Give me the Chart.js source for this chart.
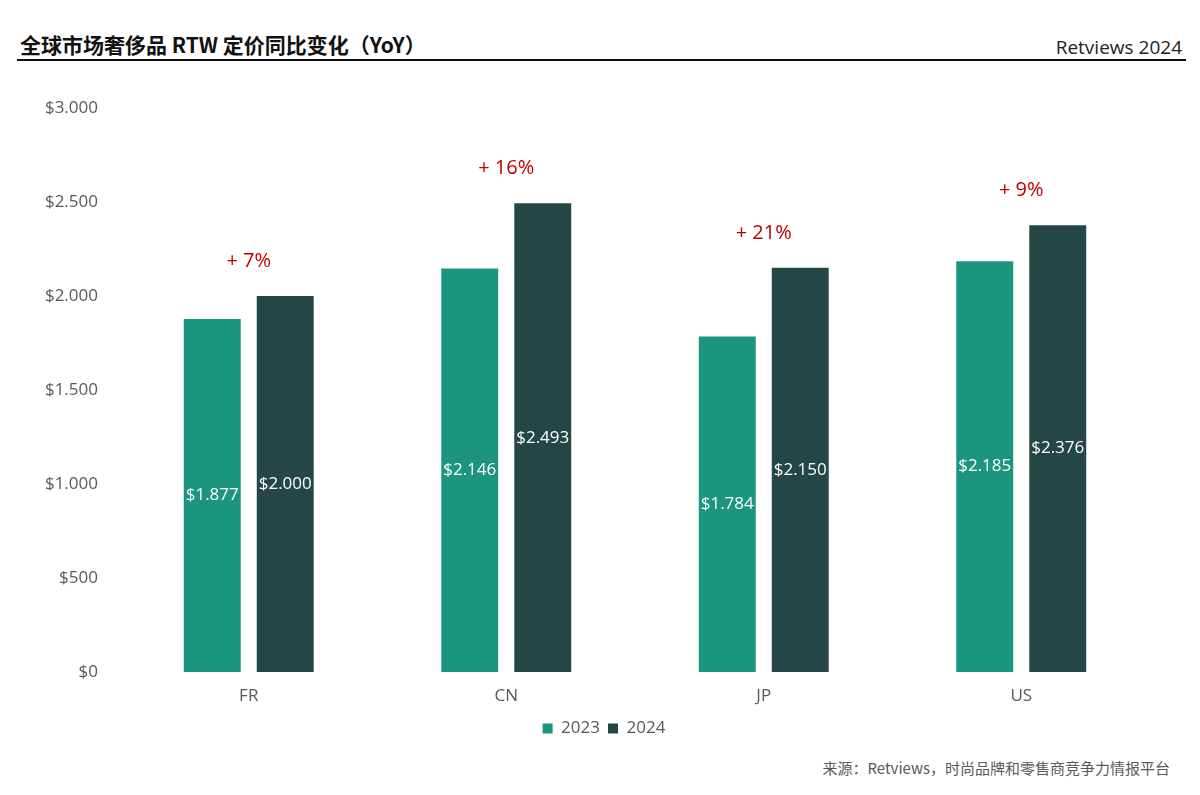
<!DOCTYPE html>
<html>
<head>
<meta charset="utf-8">
<script src="https://cdn.jsdelivr.net/npm/chart.js@4"></script>
<style>
  html, body { margin: 0; padding: 0; background: #fff; }
  body { width: 1200px; height: 795px; position: relative; overflow: hidden; font-family: "Open Sans", "Noto Sans CJK SC", sans-serif; }
  .title { position: absolute; left: 20px; top: 29px; font-family: "Noto Sans CJK SC", sans-serif; font-weight: 700; font-size: 21px; color: #111; }
  .brand { position: absolute; right: 18px; top: 34px; font-size: 19px; color: #222; }
  .rule { position: absolute; left: 17px; width: 1169px; top: 59px; height: 2px; background: #111; }
  .chart-box { position: absolute; left: 0; top: 80px; width: 1200px; height: 670px; }
  .source { position: absolute; right: 30px; top: 757px; font-family: "Noto Sans CJK SC", sans-serif; font-size: 15px; color: #595959; }
</style>
</head>
<body>
<div class="title">全球市场奢侈品 RTW 定价同比变化（YoY）</div>
<div class="brand">Retviews 2024</div>
<div class="rule"></div>
<div class="chart-box"><canvas id="grafico"></canvas></div>
<div class="source">来源：Retviews，时尚品牌和零售商竞争力情报平台</div>

<script>
// dados
const categorias = ["FR", "CN", "JP", "US"];
const anos = ["2023", "2024"];
const precos2023 = [1877, 2146, 1784, 2185];
const precos2024 = [2000, 2493, 2150, 2376];
const ticksEixo = [0, 500, 1000, 1500, 2000, 2500, 3000];

const cinza = "#595959";
const fmt = (v) => "$" + v.toLocaleString("de-DE");

// valores dentro das barras + variação em vermelho
const rotulos = {
  id: "rotulos",
  afterLayout(chart) {
    // legenda centrada na página, não na área útil
    chart.legend.left += 29;
    chart.legend.right += 29;
  },
  afterDatasetsDraw(chart) {
    const { ctx } = chart;
    ctx.save();
    ctx.textAlign = "center";
    ctx.textBaseline = "middle";
    ctx.font = "17px 'Open Sans'";
    ctx.fillStyle = "#fff";
    chart.data.datasets.forEach((ds, i) => {
      chart.getDatasetMeta(i).data.forEach((bar, j) => {
        const meio = (bar.y + bar.base) / 2;
        ctx.fillText(fmt(ds.data[j]), bar.x, meio);
      });
    });

    const m0 = chart.getDatasetMeta(0).data;
    const m1 = chart.getDatasetMeta(1).data;
    ctx.font = "500 20px 'Open Sans'";
    ctx.fillStyle = "#C00000";
    categorias.forEach((c, j) => {
      const pct = Math.round((precos2024[j] / precos2023[j] - 1) * 100);
      const topo = Math.min(m0[j].y, m1[j].y);
      const x = (m0[j].x + m1[j].x) / 2;
      ctx.fillText("+ " + pct + "%", x, topo - 35);
    });
    ctx.restore();
  }
};

new Chart(document.getElementById("grafico"), {
  type: "bar",
  data: {
    labels: categorias,
    datasets: [
      { label: anos[0], data: precos2023, backgroundColor: "#1B9480" },
      { label: anos[1], data: precos2024, backgroundColor: "#244745" }
    ]
  },
  options: {
    responsive: true,
    maintainAspectRatio: false,
    animation: false,
    categoryPercentage: 0.567,
    barPercentage: 0.78,
    layout: { padding: { top: 28, left: 0, right: 50, bottom: 3 } },
    plugins: {
      legend: {
        position: "bottom",
        labels: {
          boxWidth: 10,
          boxHeight: 10,
          padding: 8,
          color: cinza,
          font: { family: "Open Sans", size: 17 }
        }
      },
      tooltip: { enabled: false }
    },
    scales: {
      x: {
        grid: { display: false },
        border: { display: false },
        ticks: { color: cinza, font: { family: "Open Sans", size: 17 }, padding: 6 },
        afterFit: (s) => { s.height = 40; }
      },
      y: {
        min: 0,
        max: 3000,
        grid: { display: false },
        border: { display: false },
        afterBuildTicks: (s) => { s.ticks = ticksEixo.map((v) => ({ value: v })); },
        ticks: { color: cinza, font: { family: "Open Sans", size: 17 }, padding: 14, callback: (v) => fmt(v) },
        afterFit: (s) => { s.width = 120; }
      }
    }
  },
  plugins: [rotulos]
});
</script>
</body>
</html>
